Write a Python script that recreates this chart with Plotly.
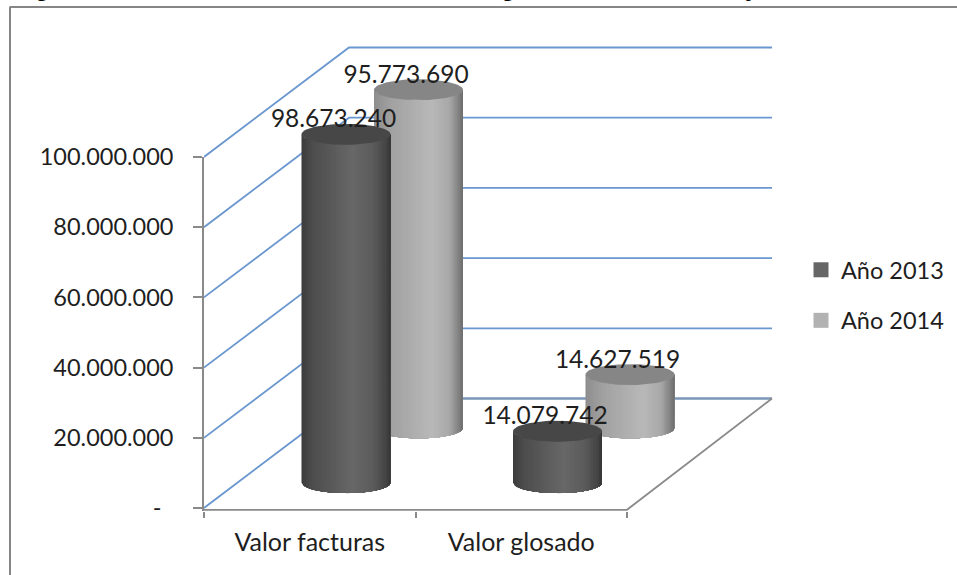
import numpy as np
import plotly.graph_objects as go

# ---------- data ----------
categories = ["Valor facturas", "Valor glosado"]
series_names = ["Año 2013", "Año 2014"]
valores_2013 = [98673240, 14079742]
valores_2014 = [95773690, 14627519]
etiquetas_2013 = ["98.673.240", "14.079.742"]
etiquetas_2014 = ["95.773.690", "14.627.519"]
tick_values = [0, 20000000, 40000000, 60000000, 80000000, 100000000]
tick_labels = ["-\u00a0\u00a0", "20.000.000", "40.000.000", "60.000.000", "80.000.000", "100.000.000"]
clipped_title_glyphs = [("g", 42), ("g", 508), ("y", 752)]

# ---------- page geometry (px) ----------
W, H = 957, 575
L, R, T, B = 204, 774, 45, 511
PX_PER_CAT = 211.5
PX_PER_Y = 351 / 1e8
Y_BOTTOM = -3 / PX_PER_Y
Y_TOP = Y_BOTTOM + (B - T) / PX_PER_Y
X_RIGHT = (R - L) / PX_PER_CAT

# oblique projection of the depth axis, in data units
DEPTH_X = 145 / PX_PER_CAT
DEPTH_Y = 109.5 / PX_PER_Y
RX = 44.5 / PX_PER_CAT
RY = 10.5 / PX_PER_Y
BASE_DROP = 2 / PX_PER_Y

FONT = "Lato"
TXT = "#1e1e1e"
GRID = "#6a97cf"
FLOOR_BACK = "#7f95b2"
AXIS = "#8a8a8a"
COL_2013 = "#666666"
COL_2014 = "#b2b2b2"
SIDE_2013 = ([-1, -0.75, 0.15, 0.6, 0.9, 1], ["#3c3c3c", "#4e4e4e", "#686868", "#5c5c5c", "#454545", "#343434"])
SIDE_2014 = ([-1, -0.6, 0.3, 0.7, 0.9, 1], ["#8e8e8e", "#a2a2a2", "#b9b9b9", "#a8a8a8", "#828282", "#6c6c6c"])
CAP_2013 = "#474747"
CAP_2014 = "#868686"


def hex2rgb(c):
    return np.array([int(c[i:i + 2], 16) for i in (1, 3, 5)], float)


def side_color(u, stops):
    pos, cols = stops
    rgb = [np.interp(u, pos, [hex2rgb(c)[k] for c in cols]) for k in range(3)]
    return "rgb(%d,%d,%d)" % tuple(rgb)


fig = go.Figure()

# keeps the visible value axis alive; also supplies the legend swatches
for name, col in zip(series_names, [COL_2013, COL_2014]):
    fig.add_trace(go.Scatter(
        x=[None], y=[None], mode="markers", name=name, legendgroup=name,
        marker=dict(symbol="square", size=15, color=col, line=dict(width=0)),
        xaxis="x", yaxis="y", hoverinfo="skip",
    ))


def line(xs, ys, color, width=1.8):
    fig.add_trace(go.Scatter(
        x=xs, y=ys, mode="lines", line=dict(color=color, width=width),
        xaxis="x", yaxis="y2", showlegend=False, hoverinfo="skip",
    ))


# walls: every gridline runs from the front axis to the back plane, then right
n_cat = len(categories)
for v in tick_values:
    line([0, DEPTH_X, n_cat + DEPTH_X], [v, v + DEPTH_Y, v + DEPTH_Y], GRID)
# floor edges
AXIS_LEVEL = -1.8 / PX_PER_Y
line([DEPTH_X, n_cat + DEPTH_X], [DEPTH_Y, DEPTH_Y], FLOOR_BACK, 2)
line([0, n_cat, n_cat + DEPTH_X], [AXIS_LEVEL, AXIS_LEVEL, DEPTH_Y], AXIS, 1.8)


def cylinder(c_idx, depth, value, stops, cap):
    cx = c_idx + 0.5 + depth * DEPTH_X
    y1 = depth * DEPTH_Y + value
    y0 = depth * DEPTH_Y - BASE_DROP
    edges = np.linspace(-1, 1, 61)
    # painted left to right, each strip reaching the right edge, so no seams show
    for a, b in zip(edges[:-1], edges[1:]):
        us = np.linspace(a, 1, 40)
        arc = RY * np.sqrt(np.clip(1 - us ** 2, 0, 1))
        xs = cx + RX * us
        px = np.concatenate([xs, xs[::-1], xs[:1]])
        py = np.concatenate([y1 - arc, (y0 - arc)[::-1], (y1 - arc)[:1]])
        col = side_color((a + b) / 2, stops)
        fig.add_trace(go.Scatter(
            x=px, y=py, mode="lines", fill="toself", fillcolor=col,
            line=dict(color=col, width=0),
            xaxis="x", yaxis="y2", showlegend=False, hoverinfo="skip",
        ))
    t = np.linspace(0, 2 * np.pi, 80)
    fig.add_trace(go.Scatter(
        x=cx + RX * np.cos(t), y=y1 + RY * np.sin(t), mode="lines", fill="toself",
        fillcolor=cap, line=dict(color=cap, width=0),
        xaxis="x", yaxis="y2", showlegend=False, hoverinfo="skip",
    ))


for i, v in enumerate(valores_2014):
    cylinder(i, 0.75, v, SIDE_2014, CAP_2014)
for i, v in enumerate(valores_2013):
    cylinder(i, 0.25, v, SIDE_2013, CAP_2013)

# data labels
for depth, vals, labels in [(0.25, valores_2013, etiquetas_2013), (0.75, valores_2014, etiquetas_2014)]:
    fig.add_trace(go.Scatter(
        x=[i + 0.5 + depth * DEPTH_X - 12.5 / PX_PER_CAT for i in range(n_cat)],
        y=[depth * DEPTH_Y + v + 13 / PX_PER_Y for v in vals],
        mode="text", text=labels, textposition="middle center", cliponaxis=False,
        textfont=dict(family=FONT, size=24.5, color=TXT),
        xaxis="x", yaxis="y2", showlegend=False, hoverinfo="skip",
    ))

plot_w, plot_h = R - L, B - T


def px_x(p):
    return (p - L) / plot_w


def px_y(p):
    return (B - p) / plot_h


shapes = [
    dict(type="line", xref="paper", yref="paper", x0=px_x(10), x1=px_x(10), y0=px_y(6.5), y1=px_y(H + 5),
         line=dict(color="#868686", width=2)),
    dict(type="line", xref="paper", yref="paper", x0=px_x(10), x1=px_x(W + 5), y0=px_y(7), y1=px_y(7),
         line=dict(color="#868686", width=2)),
]

annotations = [
    dict(text="<b>%s</b>" % g, xref="paper", yref="paper", x=px_x(x), y=px_y(2.5), xanchor="center", yanchor="bottom",
         showarrow=False, font=dict(family="Liberation Sans", size=24, color="#000000"))
    for g, x in clipped_title_glyphs
]

fig.update_layout(
    width=W, height=H, autosize=False,
    margin=dict(l=L, r=W - R, t=T, b=H - B, pad=0, autoexpand=False),
    paper_bgcolor="white", plot_bgcolor="rgba(0,0,0,0)",
    font=dict(family=FONT, size=23, color=TXT),
    showlegend=True,
    legend=dict(x=px_x(809), xanchor="left", y=px_y(248), yanchor="top", indentation=-8,
                tracegroupgap=17, font=dict(family=FONT, size=23.5, color=TXT),
                bgcolor="rgba(0,0,0,0)", itemclick=False, itemdoubleclick=False),
    xaxis=dict(
        range=[0, X_RIGHT], domain=[0, 1], anchor="y", showgrid=False, zeroline=False,
        showline=False,
        tickmode="array", tickvals=[0.5, 1.5], ticktext=categories, ticks="", ticklabelstandoff=14,
        tickfont=dict(family=FONT, size=25, color=TXT),
        minor=dict(tickmode="array", tickvals=[0, 1, 2], ticks="outside", ticklen=6, tickwidth=1.6,
                   tickcolor=AXIS, showgrid=False),
    ),
    yaxis=dict(
        range=[Y_BOTTOM, 1e8], domain=[0, (B - 157) / plot_h], anchor="x", showgrid=False, zeroline=False,
        showline=True, linecolor=AXIS, linewidth=1.6,
        tickmode="array", tickvals=tick_values, ticktext=tick_labels,
        ticks="outside", ticklen=9, tickwidth=1.6, tickcolor=AXIS, ticklabelstandoff=15,
        tickfont=dict(family=FONT, size=23.5, color=TXT),
    ),
    yaxis2=dict(range=[Y_BOTTOM, Y_TOP], domain=[0, 1], anchor="x", visible=False),
    shapes=shapes, annotations=annotations,
)

fig.write_html("out.html", post_script="document.body.style.margin='0';document.body.style.overflow='hidden';",
               config=dict(displayModeBar=False))
